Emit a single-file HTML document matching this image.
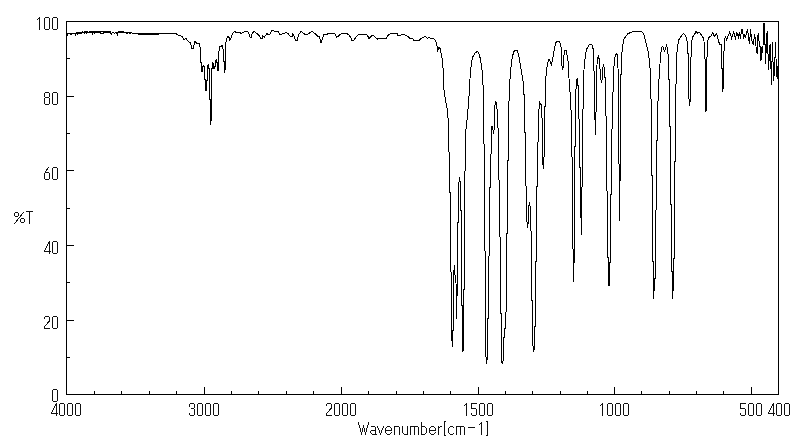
<!DOCTYPE html>
<html><head><meta charset="utf-8"><title>IR spectrum</title>
<style>
html,body{margin:0;padding:0;background:#fff;}
body{width:800px;height:441px;overflow:hidden;font-family:"Liberation Sans",sans-serif;}
svg{display:block;}
</style></head><body>
<svg width="800" height="441" viewBox="0 0 800 441">
<rect x="0" y="0" width="800" height="441" fill="#fff"/>
<g fill="none" stroke="#000" stroke-width="1" shape-rendering="crispEdges">
<rect x="66.5" y="21.5" width="712.0" height="373.0"/>
<path d="M94.5,394.5V391.0M121.5,394.5V391.0M149.5,394.5V391.0M176.5,394.5V391.0M204.5,394.5V387.0M231.5,394.5V391.0M258.5,394.5V391.0M286.5,394.5V391.0M313.5,394.5V391.0M341.5,394.5V387.0M368.5,394.5V391.0M396.5,394.5V391.0M423.5,394.5V391.0M450.5,394.5V391.0M478.5,394.5V387.0M505.5,394.5V391.0M532.5,394.5V391.0M560.5,394.5V391.0M587.5,394.5V391.0M614.5,394.5V387.0M641.5,394.5V391.0M669.5,394.5V391.0M696.5,394.5V391.0M723.5,394.5V391.0M751.5,394.5V387.0M66.5,357.5H70.0M66.5,320.5H74.0M66.5,282.5H70.0M66.5,245.5H74.0M66.5,208.5H70.0M66.5,170.5H74.0M66.5,133.5H70.0M66.5,96.5H74.0M66.5,58.5H70.0"/>
<path d="M66.50,33.50 L67.00,33.50 L67.50,34.50 L68.00,33.50 L70.00,33.50 L70.50,34.50 L71.50,34.50 L72.00,33.50 L75.00,33.50 L75.50,34.50 L76.00,33.50 L76.50,32.50 L77.00,32.50 L77.50,33.50 L78.00,32.50 L82.00,32.50 L82.50,31.50 L83.50,32.50 L84.50,31.50 L85.00,33.40 L86.00,31.50 L86.70,33.40 L87.50,31.50 L88.50,32.50 L92.00,32.50 L92.50,33.50 L93.00,32.50 L94.20,32.50 L94.70,33.50 L95.20,32.50 L100.00,32.50 L100.50,33.50 L103.00,33.50 L103.50,32.50 L110.50,32.50 L111.20,34.50 L111.80,33.00 L113.50,32.50 L114.50,33.50 L115.50,32.50 L116.80,33.00 L117.30,34.50 L117.80,32.50 L118.50,31.50 L123.75,31.50 L124.20,32.50 L126.00,32.50 L126.50,33.50 L127.50,33.50 L128.00,32.50 L129.00,32.50 L129.50,33.50 L130.50,33.50 L131.00,32.50 L131.80,32.50 L132.30,33.50 L145.00,33.50 L146.00,34.50 L147.00,33.50 L148.00,34.50 L149.00,33.50 L150.00,34.50 L151.00,33.50 L152.00,34.50 L153.00,33.50 L154.00,33.50 L176.25,33.50 L177.00,34.40 L178.00,35.20 L180.00,35.60 L182.50,36.90 L183.50,39.40 L186.25,38.75 L188.75,41.90 L190.60,42.50 L191.50,48.50 L193.50,48.50 L194.40,41.90 L195.60,41.90 L196.90,43.50 L199.60,44.00 L200.50,51.00 L200.50,62.50 L201.50,63.00 L201.50,71.50 L202.50,71.50 L202.50,66.50 L203.50,65.50 L204.50,67.50 L204.50,79.50 L205.50,80.00 L205.50,90.50 L206.50,90.50 L206.50,80.50 L207.50,80.00 L207.50,66.50 L208.50,64.50 L208.50,68.50 L209.50,69.00 L209.50,99.50 L210.50,100.00 L210.50,124.80 L211.50,117.50 L211.50,69.00 L212.50,68.50 L212.50,62.50 L213.50,64.50 L213.50,68.50 L214.50,68.50 L214.50,66.50 L215.50,66.00 L215.50,61.50 L216.50,59.50 L216.50,62.00 L217.50,62.50 L217.50,70.50 L218.50,70.50 L218.50,56.00 L219.40,46.90 L222.50,45.60 L223.10,50.00 L223.50,61.00 L224.50,61.50 L224.50,72.50 L225.50,67.50 L225.50,46.25 L226.50,38.75 L227.75,36.25 L229.00,37.50 L230.00,40.40 L231.25,37.50 L232.50,33.40 L234.75,31.50 L236.25,32.50 L240.00,32.50 L241.00,34.00 L243.00,32.25 L246.90,31.50 L248.50,32.50 L250.00,36.90 L251.25,37.25 L252.25,33.10 L254.00,31.50 L256.25,33.10 L258.75,35.00 L260.60,38.10 L262.25,38.10 L262.75,35.60 L264.40,36.90 L266.90,33.50 L268.75,35.00 L270.00,34.40 L271.25,31.00 L272.50,30.25 L275.00,31.25 L278.10,31.50 L279.40,34.00 L281.25,34.40 L282.50,33.50 L284.40,33.50 L285.60,32.50 L288.10,33.75 L289.40,35.60 L290.60,36.90 L291.90,36.90 L292.75,34.00 L294.40,36.90 L295.60,40.25 L297.25,40.25 L298.50,35.00 L301.00,31.50 L302.50,32.50 L304.40,34.00 L308.10,34.00 L310.00,32.50 L312.50,31.50 L314.40,33.10 L316.25,34.75 L317.50,36.25 L319.40,36.50 L320.60,42.25 L321.50,42.25 L322.50,38.75 L323.50,34.75 L326.90,34.40 L328.10,33.25 L334.40,33.25 L335.60,35.00 L336.50,37.25 L337.75,36.90 L339.40,35.00 L341.90,33.25 L346.50,33.25 L348.75,34.75 L350.60,37.25 L351.90,40.25 L354.00,40.25 L355.60,37.50 L358.75,34.40 L366.25,34.40 L367.75,36.00 L369.00,38.50 L370.60,36.90 L372.25,35.25 L373.75,36.00 L376.25,38.50 L377.50,39.00 L379.40,38.40 L386.25,38.10 L388.10,35.25 L391.00,33.25 L397.50,33.25 L397.75,35.25 L401.00,35.10 L402.00,34.60 L403.00,35.10 L404.40,34.75 L407.50,36.25 L410.60,38.75 L413.10,39.00 L414.40,41.00 L418.75,40.60 L421.25,38.10 L423.50,37.60 L424.00,36.80 L425.60,36.25 L427.50,38.75 L429.00,37.25 L431.25,38.75 L434.40,39.00 L435.60,40.60 L436.90,45.00 L437.75,50.00 L439.00,47.50 L440.25,48.75 L441.25,53.75 L442.50,61.25 L443.50,75.00 L443.50,86.25 L445.25,98.75 L447.50,110.00 L448.50,125.00 L448.75,141.90 L449.60,175.00 L449.60,192.50 L450.60,193.00 L450.60,270.00 L451.50,275.00 L451.50,340.60 L452.50,341.00 L452.50,346.90 L452.60,331.00 L453.50,330.60 L453.50,320.00 L453.75,273.75 L454.40,265.00 L455.00,275.00 L456.00,282.50 L456.30,319.40 L456.80,300.00 L457.50,285.60 L457.50,223.00 L458.50,222.50 L458.50,185.00 L459.60,179.40 L460.60,182.50 L460.60,210.60 L461.50,211.00 L461.50,305.60 L462.50,306.00 L462.50,351.25 L463.50,350.00 L463.50,290.00 L464.40,289.40 L464.40,172.50 L465.60,170.00 L465.60,132.50 L466.90,121.25 L467.50,113.75 L468.75,101.25 L469.75,82.50 L470.60,70.00 L471.50,62.50 L472.50,57.50 L474.75,53.50 L477.25,51.25 L478.50,52.50 L480.00,57.50 L481.50,65.00 L482.50,75.00 L482.50,80.00 L483.50,89.40 L483.50,120.00 L483.75,130.00 L484.60,175.00 L484.60,250.60 L485.60,251.25 L485.60,350.60 L486.50,363.75 L487.25,358.75 L487.25,319.40 L488.40,318.00 L488.40,256.25 L489.40,255.60 L489.40,188.00 L490.60,187.50 L490.60,170.00 L491.25,145.00 L491.50,126.25 L492.50,127.00 L493.50,133.75 L494.60,126.00 L494.60,107.50 L495.90,101.25 L497.50,112.50 L497.50,120.00 L498.50,136.00 L498.50,179.40 L499.60,180.60 L499.60,236.25 L500.60,237.50 L500.60,313.00 L501.50,314.40 L501.50,360.00 L502.25,363.75 L503.50,358.75 L503.50,338.00 L504.60,337.50 L504.60,328.75 L505.40,328.00 L505.40,312.50 L506.25,312.00 L506.25,234.40 L507.50,233.00 L507.50,161.00 L508.50,160.00 L508.50,125.00 L508.75,107.50 L509.75,82.50 L510.25,75.00 L511.50,62.50 L512.50,56.25 L513.75,51.90 L515.00,50.40 L517.25,50.40 L518.75,55.00 L520.00,62.50 L521.50,72.50 L523.10,81.25 L524.40,100.00 L524.60,132.50 L525.60,133.00 L525.60,185.60 L526.50,186.25 L526.50,221.90 L527.50,222.50 L527.50,227.50 L528.40,221.90 L528.40,210.60 L529.40,202.25 L530.60,210.00 L530.60,230.60 L531.60,231.25 L531.60,300.00 L532.50,300.00 L532.50,341.90 L533.50,350.60 L534.40,348.75 L534.40,326.90 L535.60,326.25 L535.60,262.00 L536.50,261.25 L536.50,186.90 L537.50,186.25 L537.50,142.50 L538.40,141.90 L538.40,125.00 L538.75,111.90 L539.75,102.25 L541.25,105.00 L541.50,117.50 L542.50,118.75 L542.50,160.00 L543.40,168.75 L544.40,150.00 L544.40,125.00 L544.60,106.90 L545.60,106.25 L545.90,76.90 L546.60,70.00 L546.90,67.50 L547.75,62.50 L548.75,59.40 L550.00,60.60 L551.25,65.00 L552.50,60.60 L553.50,53.75 L554.75,46.90 L556.00,42.50 L557.50,41.25 L559.40,41.50 L560.60,43.75 L561.25,48.75 L561.90,65.00 L562.50,70.00 L563.40,66.25 L564.00,55.00 L565.00,50.00 L566.25,50.60 L567.25,56.25 L568.10,61.25 L568.75,75.00 L570.00,91.90 L571.00,110.00 L571.50,125.00 L571.50,156.25 L572.50,157.50 L572.50,247.50 L573.50,250.00 L573.50,281.90 L574.20,256.25 L574.60,256.00 L574.60,146.90 L575.60,146.25 L575.60,125.00 L575.90,90.00 L576.50,86.25 L577.10,78.10 L577.75,85.60 L578.50,86.00 L578.50,118.75 L579.60,119.40 L579.60,167.50 L580.60,168.00 L580.60,187.50 L581.25,234.75 L582.00,187.50 L582.50,170.00 L582.50,109.40 L583.50,108.75 L583.75,72.50 L584.40,65.00 L585.60,53.75 L586.90,48.75 L589.40,44.40 L591.90,45.00 L593.10,48.75 L593.75,68.75 L594.40,75.00 L594.60,103.75 L595.40,134.75 L596.25,103.75 L596.50,70.00 L596.90,66.25 L597.50,57.50 L598.40,56.25 L599.40,60.00 L600.00,68.75 L600.60,75.00 L601.25,83.00 L602.50,77.50 L602.50,68.10 L603.50,65.60 L604.40,67.50 L604.60,77.50 L605.60,78.00 L605.60,115.60 L606.50,116.25 L606.50,190.60 L607.50,191.25 L607.50,257.50 L608.50,258.00 L609.00,286.25 L609.60,262.00 L610.60,262.00 L610.60,195.00 L611.50,194.40 L611.50,129.40 L612.50,128.75 L612.50,92.50 L613.50,91.90 L613.50,72.00 L613.75,70.00 L614.40,60.00 L615.40,55.00 L616.25,53.50 L617.25,55.00 L617.75,65.00 L618.50,75.00 L618.75,163.75 L619.60,164.40 L619.60,220.60 L619.60,180.50 L620.60,180.00 L620.60,75.00 L621.60,74.40 L621.50,56.25 L622.50,47.50 L623.50,40.00 L625.00,37.50 L627.50,34.00 L630.00,32.75 L633.10,31.50 L641.25,31.50 L643.10,33.10 L644.40,36.25 L645.60,41.90 L647.75,49.40 L649.00,57.50 L650.00,67.50 L650.60,75.00 L650.60,98.75 L651.50,99.40 L651.50,175.60 L652.40,176.00 L652.40,261.40 L653.50,262.00 L653.70,298.60 L654.50,278.80 L655.40,278.80 L655.40,210.50 L656.40,210.00 L656.40,140.60 L657.40,140.00 L657.50,101.25 L658.50,100.60 L658.50,79.40 L659.60,78.75 L659.75,67.50 L660.60,55.00 L661.50,47.50 L662.75,46.25 L663.75,49.40 L664.60,51.25 L665.60,48.75 L666.50,44.40 L667.50,48.75 L668.10,54.40 L668.50,75.00 L668.50,79.40 L669.60,80.00 L669.60,126.90 L670.50,127.00 L670.50,204.70 L671.50,205.00 L671.50,271.60 L672.50,272.00 L672.80,298.60 L673.50,271.60 L673.50,258.50 L674.60,258.00 L674.60,161.80 L675.50,161.00 L675.50,84.40 L676.50,83.75 L676.50,57.50 L677.50,47.50 L678.75,40.00 L680.60,36.90 L683.30,33.50 L684.90,34.40 L686.40,38.00 L687.40,43.00 L687.90,52.80 L688.60,57.50 L688.60,92.50 L689.40,105.60 L690.50,98.75 L690.50,57.50 L691.50,56.25 L691.90,40.00 L693.10,36.25 L695.00,33.50 L696.00,31.50 L697.50,33.10 L699.75,32.50 L701.25,34.75 L703.10,37.50 L704.00,41.25 L704.60,57.50 L705.40,61.25 L705.60,75.00 L706.00,111.90 L706.60,75.00 L706.90,61.25 L707.50,41.90 L708.75,37.50 L711.25,35.60 L712.75,32.50 L714.00,35.60 L715.00,36.25 L716.60,33.50 L717.50,36.90 L718.75,41.90 L720.00,44.40 L721.25,44.40 L721.60,57.50 L721.60,68.75 L722.50,69.00 L722.50,91.90 L723.50,86.00 L723.50,56.00 L724.00,51.25 L724.50,40.60 L725.50,36.00 L726.50,40.50 L727.50,37.00 L728.50,35.00 L729.50,32.30 L730.50,34.00 L731.50,38.50 L732.50,35.50 L733.50,32.30 L734.50,34.50 L735.50,39.50 L736.50,32.50 L737.50,34.00 L738.50,37.00 L739.50,32.30 L740.50,38.50 L741.50,29.50 L742.50,30.00 L743.50,38.50 L744.50,35.00 L745.50,37.00 L746.50,33.00 L747.50,29.50 L748.50,37.00 L749.50,44.40 L750.50,29.40 L751.50,38.00 L752.50,43.50 L753.50,44.00 L754.50,34.50 L755.50,40.00 L756.50,52.50 L757.50,53.00 L757.50,37.00 L758.50,33.10 L759.40,46.25 L760.40,46.90 L761.00,60.60 L761.90,46.90 L762.75,53.10 L763.75,23.75 L764.60,23.75 L765.40,63.50 L766.25,48.75 L767.10,31.25 L767.90,51.25 L768.60,69.75 L769.75,46.25 L770.40,44.40 L771.40,84.75 L772.50,42.50 L773.50,80.60 L774.50,72.50 L775.50,42.25 L776.50,73.50 L777.30,79.00 L778.00,66.00" stroke-linejoin="miter"/>
<path d="M76,33.5H82M88.75,31.5H110.5M118,32.5H123.75M138,34.5H159"/>
</g>
<g fill="none" stroke="#111" stroke-width="1" shape-rendering="crispEdges">
<path transform="translate(36,17)" d="M3.5,0V13M3.5,0.5L1.2,2.8"/>
<path transform="translate(44,17)" d="M1.5,0.5H4.5L5.5,1.5V11.5L4.5,12.5H1.5L0.5,11.5V1.5Z"/>
<path transform="translate(52,17)" d="M1.5,0.5H4.5L5.5,1.5V11.5L4.5,12.5H1.5L0.5,11.5V1.5Z"/>
<path transform="translate(44,92)" d="M1.5,0.5H4.5L5.5,1.5V4.5L4.5,5.5H1.5L0.5,4.5V1.5ZM1.5,5.5H4.5L5.5,6.5V11.5L4.5,12.5H1.5L0.5,11.5V6.5Z"/>
<path transform="translate(52,92)" d="M1.5,0.5H4.5L5.5,1.5V11.5L4.5,12.5H1.5L0.5,11.5V1.5Z"/>
<path transform="translate(44,167)" d="M4.7,0.2L0.9,5.2M1.5,5.5H4.5L5.5,6.5V11.5L4.5,12.5H1.5L0.5,11.5V6.5Z"/>
<path transform="translate(52,167)" d="M1.5,0.5H4.5L5.5,1.5V11.5L4.5,12.5H1.5L0.5,11.5V1.5Z"/>
<path transform="translate(44,241)" d="M5.5,0V13M5.5,0.5L0.5,10M0,10.5H7"/>
<path transform="translate(52,241)" d="M1.5,0.5H4.5L5.5,1.5V11.5L4.5,12.5H1.5L0.5,11.5V1.5Z"/>
<path transform="translate(44,316)" d="M0.5,3V1.5L1.5,0.5H4.5L5.5,1.5V5L0.5,10.5V12.5H6"/>
<path transform="translate(52,316)" d="M1.5,0.5H4.5L5.5,1.5V11.5L4.5,12.5H1.5L0.5,11.5V1.5Z"/>
<path transform="translate(52,389)" d="M1.5,0.5H4.5L5.5,1.5V11.5L4.5,12.5H1.5L0.5,11.5V1.5Z"/>
<path transform="translate(51,403)" d="M5.5,0V13M5.5,0.5L0.5,10M0,10.5H7"/>
<path transform="translate(59,403)" d="M1.5,0.5H4.5L5.5,1.5V11.5L4.5,12.5H1.5L0.5,11.5V1.5Z"/>
<path transform="translate(67,403)" d="M1.5,0.5H4.5L5.5,1.5V11.5L4.5,12.5H1.5L0.5,11.5V1.5Z"/>
<path transform="translate(75,403)" d="M1.5,0.5H4.5L5.5,1.5V11.5L4.5,12.5H1.5L0.5,11.5V1.5Z"/>
<path transform="translate(189,403)" d="M0.5,3.5V1.5L1.5,0.5H4.5L5.5,1.5V4.5L4.5,5.5H2.2M4.5,5.5L5.5,6.5V11.5L4.5,12.5H1.5L0.5,11.5V9.5"/>
<path transform="translate(197,403)" d="M1.5,0.5H4.5L5.5,1.5V11.5L4.5,12.5H1.5L0.5,11.5V1.5Z"/>
<path transform="translate(205,403)" d="M1.5,0.5H4.5L5.5,1.5V11.5L4.5,12.5H1.5L0.5,11.5V1.5Z"/>
<path transform="translate(213,403)" d="M1.5,0.5H4.5L5.5,1.5V11.5L4.5,12.5H1.5L0.5,11.5V1.5Z"/>
<path transform="translate(326,403)" d="M0.5,3V1.5L1.5,0.5H4.5L5.5,1.5V5L0.5,10.5V12.5H6"/>
<path transform="translate(334,403)" d="M1.5,0.5H4.5L5.5,1.5V11.5L4.5,12.5H1.5L0.5,11.5V1.5Z"/>
<path transform="translate(342,403)" d="M1.5,0.5H4.5L5.5,1.5V11.5L4.5,12.5H1.5L0.5,11.5V1.5Z"/>
<path transform="translate(350,403)" d="M1.5,0.5H4.5L5.5,1.5V11.5L4.5,12.5H1.5L0.5,11.5V1.5Z"/>
<path transform="translate(463,403)" d="M3.5,0V13M3.5,0.5L1.2,2.8"/>
<path transform="translate(471,403)" d="M6,0.5H0.5V5.5H4.5L5.5,6.5V11.5L4.5,12.5H1.5L0.5,11.5V10"/>
<path transform="translate(479,403)" d="M1.5,0.5H4.5L5.5,1.5V11.5L4.5,12.5H1.5L0.5,11.5V1.5Z"/>
<path transform="translate(487,403)" d="M1.5,0.5H4.5L5.5,1.5V11.5L4.5,12.5H1.5L0.5,11.5V1.5Z"/>
<path transform="translate(599,403)" d="M3.5,0V13M3.5,0.5L1.2,2.8"/>
<path transform="translate(607,403)" d="M1.5,0.5H4.5L5.5,1.5V11.5L4.5,12.5H1.5L0.5,11.5V1.5Z"/>
<path transform="translate(615,403)" d="M1.5,0.5H4.5L5.5,1.5V11.5L4.5,12.5H1.5L0.5,11.5V1.5Z"/>
<path transform="translate(623,403)" d="M1.5,0.5H4.5L5.5,1.5V11.5L4.5,12.5H1.5L0.5,11.5V1.5Z"/>
<path transform="translate(740,403)" d="M6,0.5H0.5V5.5H4.5L5.5,6.5V11.5L4.5,12.5H1.5L0.5,11.5V10"/>
<path transform="translate(748,403)" d="M1.5,0.5H4.5L5.5,1.5V11.5L4.5,12.5H1.5L0.5,11.5V1.5Z"/>
<path transform="translate(756,403)" d="M1.5,0.5H4.5L5.5,1.5V11.5L4.5,12.5H1.5L0.5,11.5V1.5Z"/>
<path transform="translate(768,403)" d="M5.5,0V13M5.5,0.5L0.5,10M0,10.5H7"/>
<path transform="translate(776,403)" d="M1.5,0.5H4.5L5.5,1.5V11.5L4.5,12.5H1.5L0.5,11.5V1.5Z"/>
<path transform="translate(784,403)" d="M1.5,0.5H4.5L5.5,1.5V11.5L4.5,12.5H1.5L0.5,11.5V1.5Z"/>
<path d="M358.5,422V425M359.5,425V428M360.5,428V432M361.5,432V435M362.5,428V432M363.5,425V428M364.5,428V432M365.5,432V435M366.5,428V432M367.5,425V428M368.5,422V425M371,426.5H374.5L375.5,427.5V435M375.5,430.5H372L370.5,431.5V432.5L372.5,434.5H377M377.5,426V428M378.5,428V430M379.5,430V433M380.5,433V435M381.5,430V433M382.5,428V430M383.5,426V428M385.5,430.5H391.5V428.5L389.5,426.5H387.5L385.5,428.5V432.5L387.5,434.5H389.5L391.5,432.5M394.5,435V426.5H398.5L399.5,427.5V435M402.5,426V432.5L404.5,434.5H407.5M407.5,426V435M410.5,435V426.5H417.5L418.5,427.5V435M414.5,427V435M421.5,422V435M421.5,426.5H424.5L426.5,428.5V432.5L424.5,434.5H421.5M429.5,430.5H435.5V428.5L433.5,426.5H431.5L429.5,428.5V432.5L431.5,434.5H433.5L435.5,432.5M438.5,426V435M439,427.5H440M440,426.5H442M446,421.5H444.5V435.5H446M448.5,428V433M449,427.5H450M450,426.5H453M453,427.5H454M449,433.5H450M450,434.5H453M453,433.5H454M456.5,435V426.5H463.5L464.5,427.5V435M460.5,427V435M468,427.5H475M481.5,422V435M481.5,422.5L479,425M486,421.5H487.5V435.5H486M15.5,212.5H17.5L18.5,213.5V215.5L17.5,216.5H15.5L14.5,215.5V213.5ZM23.6,212L14.4,224M21.5,218.5H23.5L24.5,219.5V221.5L23.5,222.5H21.5L20.5,221.5V219.5ZM26,211.5H33M29.5,211V224"/>
</g>
</svg>
</body></html>
